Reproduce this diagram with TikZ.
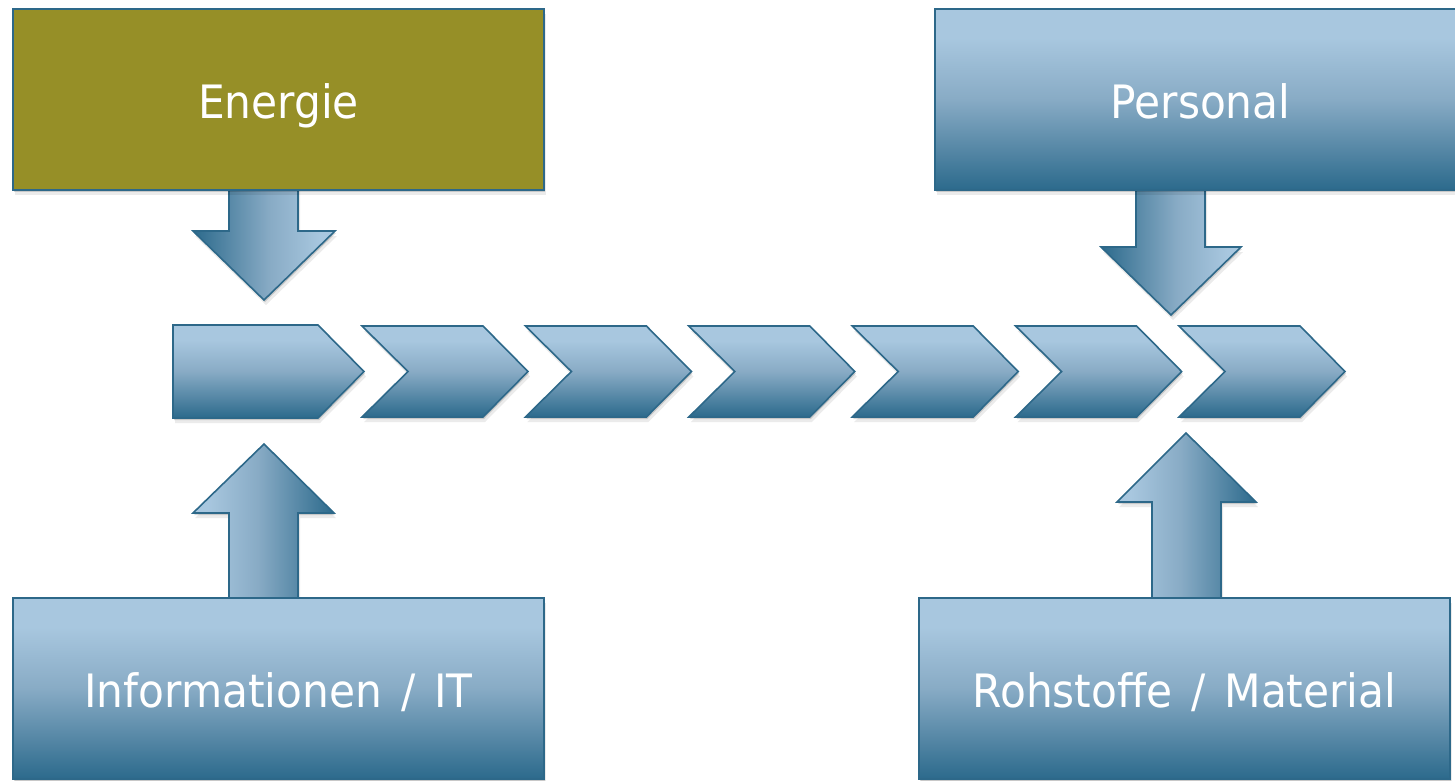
\documentclass[tikz,border=0pt]{standalone}
\usepackage{fontspec}
\newfontfamily\tfont[FakeStretch=0.92,WordSpace=1.4]{DejaVu Sans}
\usetikzlibrary{shadows}
\definecolor{ltb}{HTML}{A8C7DF}
\definecolor{midb}{HTML}{88ABC5}
\definecolor{dkb}{HTML}{2C6A8C}
\definecolor{edgeb}{HTML}{2D6889}
\definecolor{olive}{HTML}{968F27}
\pgfdeclareverticalshading{vgrad}{100bp}{color(0bp)=(dkb); color(25bp)=(dkb); color(50bp)=(midb); color(67bp)=(ltb); color(100bp)=(ltb)}
\pgfdeclarehorizontalshading{hdown}{100bp}{color(0bp)=(dkb); color(25bp)=(dkb); color(52bp)=(midb); color(70bp)=(ltb); color(100bp)=(ltb)}
\pgfdeclarehorizontalshading{hup}{100bp}{color(0bp)=(ltb); color(30bp)=(ltb); color(48bp)=(midb); color(75bp)=(dkb); color(100bp)=(dkb)}
\tikzset{
  softshadow/.style={drop shadow={shadow xshift=1pt,shadow yshift=-2pt,opacity=0.15,fill=black},
                     drop shadow={shadow xshift=2pt,shadow yshift=-5pt,opacity=0.08,fill=black}},
  box/.style={rectangle, minimum width=531pt, minimum height=181pt, draw=edgeb, line width=1.6pt,
              text=white, font=\tfont\fontsize{46}{55}\selectfont, inner sep=0pt,
              text height=34pt, text depth=0pt, softshadow},
  bluebox/.style={box, shade, shading=vgrad},
  olivebox/.style={box, fill=olive},
  chev/.style={shade, shading=vgrad, draw=edgeb, line width=1.6pt, softshadow},
  downarr/.style={shade, shading=hdown, draw=edgeb, line width=1.6pt, softshadow},
  uparr/.style={shade, shading=hup, draw=edgeb, line width=1.6pt, softshadow}
}
\begin{document}
\begin{tikzpicture}[x=1pt,y=-1pt]
\useasboundingbox (0,0) rectangle (1455,780);
\clip (0,0) rectangle (1455,780);
% block arrows (behind boxes)
\path[downarr] (229,185) -- (229,231) -- (193,231) -- (264,300) -- (335,231) -- (298,231) -- (298,185) -- cycle;
\path[downarr] (1136,185) -- (1136,247) -- (1101,247) -- (1171,315) -- (1241,247) -- (1205,247) -- (1205,185) -- cycle;
\path[uparr] (229,603) -- (229,513) -- (193,513) -- (264,444) -- (334,513) -- (298,513) -- (298,603) -- cycle;
\path[uparr] (1152,603) -- (1152,502) -- (1117,502) -- (1186,433) -- (1256,502) -- (1221,502) -- (1221,603) -- cycle;
% boxes
\node[olivebox] (energie) at (278.5,99.5) {\raisebox{-2pt}{Energie}};
\node[bluebox] (personal) at (1200.5,99.5) {\raisebox{-2pt}{Personal}};
\node[bluebox] (info) at (278.5,688.5) {\raisebox{-2pt}{Informationen / IT}};
\node[bluebox] (rohstoffe) at (1184.5,688.5) {\raisebox{-2pt}{Rohstoffe / Material}};
% process chain
\path[chev] (173,325) -- (318,325) -- (364,371.5) -- (318,418) -- (173,418) -- cycle;
\foreach \i in {0,...,5} {
  \pgfmathsetmacro\L{362+163.4*\i}
  \path[chev] (\L,326) -- (\L+121,326) -- (\L+166,371.5) -- (\L+121,417) -- (\L,417) -- (\L+46,371.5) -- cycle;
}
\end{tikzpicture}
\end{document}
